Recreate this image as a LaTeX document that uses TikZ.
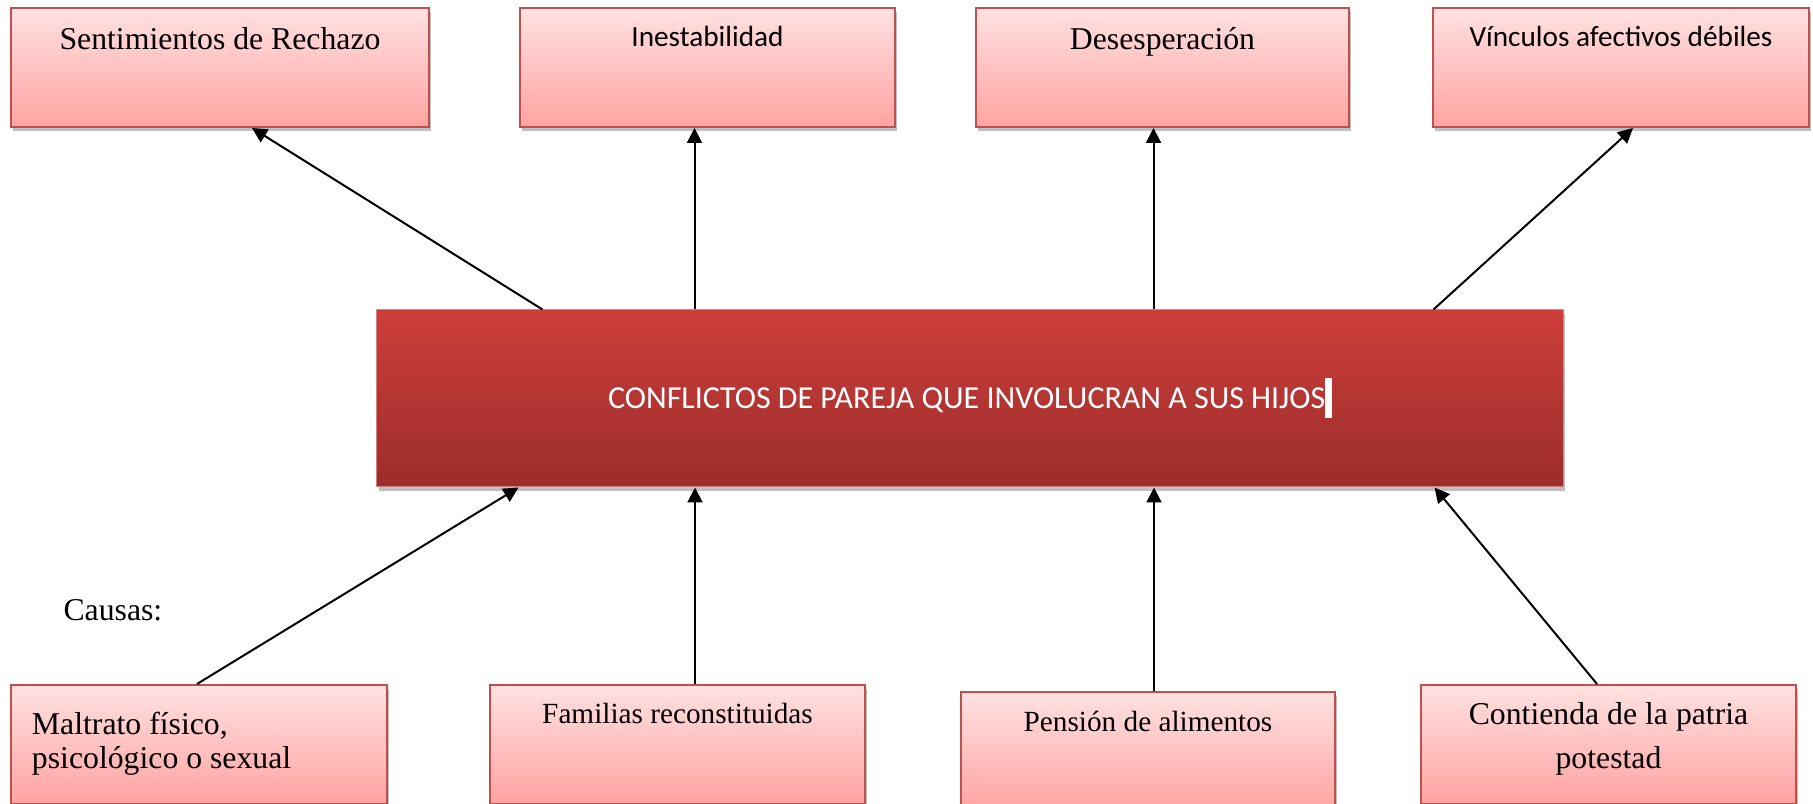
\documentclass[tikz,border=0pt]{standalone}
\usepackage{fontspec}
\setmainfont{Liberation Serif}
\newfontfamily\calibri{Carlito}
\usetikzlibrary{positioning,shadows,arrows.meta}
\definecolor{pinktop}{HTML}{FFE1E1}
\definecolor{pinkbottom}{HTML}{FFA3A2}
\definecolor{boxborder}{HTML}{C0504D}
\definecolor{redtop}{HTML}{CD3E3B}
\definecolor{redbottom}{HTML}{9B2D2A}
\tikzstyle{effect} = [rectangle, draw=boxborder, line width=0.8pt, top color=pinktop, bottom color=pinkbottom, minimum width=150pt, inner sep=0pt, text height=16.8pt, text depth=30.8pt, text centered, drop shadow={shadow xshift=0.8pt, shadow yshift=-1.6pt, fill=black, opacity=0.25}, font=\fontsize{12.7}{15.6}\selectfont]
\tikzstyle{cause} = [effect]
\tikzstyle{problem} = [rectangle, draw=boxborder!70, line width=0.4pt, top color=redtop, bottom color=redbottom, minimum width=474.4pt, inner sep=0pt, text height=39.6pt, text depth=31.2pt, text=white, drop shadow={shadow xshift=0.8pt, shadow yshift=-1.6pt, fill=black, opacity=0.25}, font=\calibri\fontsize{12.8}{15.6}\selectfont]
\tikzstyle{arrow} = [-{Triangle[length=6pt,width=6pt]}, line width=0.8pt]

\begin{document}
\begin{tikzpicture}[x=0.4pt,y=-0.4pt]
		\useasboundingbox (0,0) rectangle (1813,804);
		% efectos
		\node (rechazo) [effect,minimum width=167.2pt] at (220,67.5) {Sentimientos de Rechazo};
		\node (inestab) [effect,text height=15.6pt,text depth=32pt,font=\calibri\fontsize{11.7}{14}\selectfont] at (707.5,67.5) {Inestabilidad};
		\node (desesp) [effect,minimum width=149.2pt] at (1162.5,67.5) {Desesperación};
		\node (vinculos) [effect,minimum width=150.4pt,text height=15.6pt,text depth=32pt,font=\calibri\fontsize{11.7}{14}\selectfont] at (1621,67.5) {Vínculos afectivos débiles};
		% problema central
		\node (conflicto) [problem] at (970,398.5) {CONFLICTOS DE PAREJA QUE INVOLUCRAN A SUS HIJOS\rule[-3.6pt]{2.6pt}{16pt}};
		% causas
		\node (causas) [anchor=base west,inner sep=0pt,font=\fontsize{12.7}{15.6}\selectfont] at (63,621) {Causas:};
		\node (maltrato) [cause,minimum width=150.4pt,align=flush left,text width=133.6pt,inner xsep=8.4pt,text height=20pt,text depth=27.6pt] at (199,744.5) {Maltrato físico,\\[-2.4pt]psicológico o sexual};
		\node (familias) [cause,text height=15.6pt,text depth=32pt,font=\fontsize{11.7}{14}\selectfont] at (677.5,744.5) {Familias reconstituidas};
		\node (pension) [cause,minimum width=149.6pt,text height=16pt,text depth=31.6pt,font=\fontsize{11.7}{14}\selectfont] at (1148,751.5) {Pensión de alimentos};
		\node (contienda) [cause,align=center,text height=33.2pt,text depth=14.4pt,font=\fontsize{12.7}{17.2}\selectfont] at (1608.5,744.5) {Contienda de la patria\\potestad};
		
		\draw [arrow] ([xshift=66.4pt]conflicto.north west) -- ([xshift=12.8pt]rechazo.south);
		\draw [arrow] ([xshift=127.2pt]conflicto.north west) coordinate (e2) -- (e2 |- inestab.south);
		\draw [arrow] ([xshift=310.8pt]conflicto.north west) coordinate (e3) -- (e3 |- desesp.south);
		\draw [arrow] ([xshift=422.8pt]conflicto.north west) -- ([xshift=4.8pt]vinculos.south);
		
		\draw [arrow] ([xshift=-0.8pt]maltrato.north) -- ([xshift=56.8pt]conflicto.south west);
		\draw [arrow] ([xshift=7pt]familias.north) coordinate (c2) -- (c2 |- conflicto.south);
		\draw [arrow] ([xshift=2.4pt]pension.north) coordinate (c3) -- (c3 |- conflicto.south);
		\draw [arrow] ([xshift=-4.6pt]contienda.north) -- ([xshift=423.2pt]conflicto.south west);
	\end{tikzpicture}
\end{document}
